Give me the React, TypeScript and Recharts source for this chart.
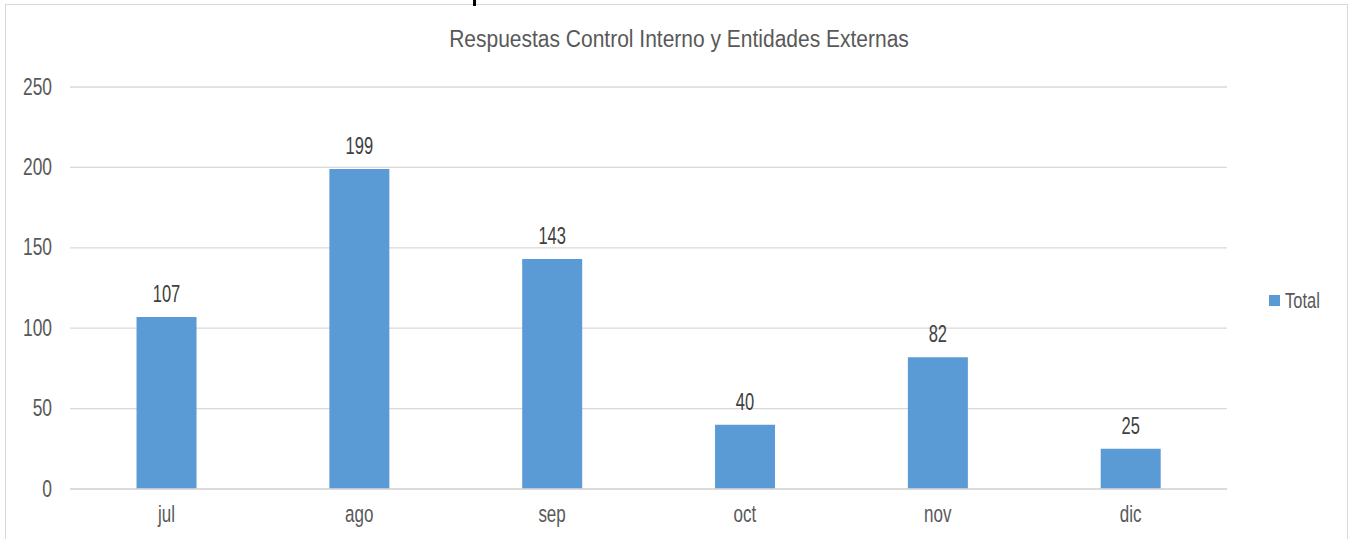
import React from 'react';
import { BarChart, Bar, XAxis, YAxis, CartesianGrid, LabelList } from 'recharts';

const months = ['jul', 'ago', 'sep', 'oct', 'nov', 'dic'];
const totals = [107, 199, 143, 40, 82, 25];
const yTicks = [0, 50, 100, 150, 200, 250];
const seriesName = 'Total';
const title = 'Respuestas Control Interno y Entidades Externas';

const data = months.map((m, i) => ({ month: m, Total: totals[i] }));

const FONT = "'Liberation Sans', Arial, sans-serif";
const TEXT = '#595959';
const LABEL = '#404040';
const BAR = '#5b9bd5';
const GRID = '#d9d9d9';

const YTick = (props: any) => {
  const { x, y, payload } = props;
  const bx = x - 10;
  const by = y + 7.5;
  return (
    <text x={bx} y={0} transform={`translate(0,${by}) scale(1,1.36)`} textAnchor="end" fill={TEXT} fontSize={17.4} fontFamily={FONT}>
      {payload.value}
    </text>
  );
};

const XTick = (props: any) => {
  const { x, y, payload } = props;
  const by = y + 25;
  return (
    <text x={x} y={0} transform={`translate(0,${by}) scale(1,1.37)`} textAnchor="middle" fill={TEXT} fontSize={17} fontFamily={FONT}>
      {payload.value}
    </text>
  );
};

const BarLabel = (props: any) => {
  const { x, y, width, value } = props;
  const cx = Number(x) + Number(width) / 2;
  const by = Number(y) - 15;
  return (
    <text x={cx} y={0} transform={`translate(0,${by}) scale(1,1.42)`} textAnchor="middle" fill={LABEL} fontSize={16.5} fontFamily={FONT}>
      {value}
    </text>
  );
};

export default function App() {
  return (
    <div style={{ position: 'absolute', left: 0, top: 0, width: 1354, height: 539, background: '#fff', overflow: 'hidden' }}>
      <div style={{ position: 'absolute', left: 5, top: 4, width: 1343, height: 560, border: '1px solid #d9d9d9', boxSizing: 'border-box' }} />
      <div style={{ position: 'absolute', left: 473, top: 0, width: 3, height: 6, background: '#000' }} />
      <div style={{ position: 'absolute', left: 0, top: 0 }}>
        <BarChart width={1354} height={539} data={data} margin={{ top: 87, right: 127, left: 10, bottom: 20 }} barCategoryGap="34.5%">
          <CartesianGrid vertical={false} stroke={GRID} strokeWidth={1.3} />
          <XAxis dataKey="month" axisLine={{ stroke: GRID, strokeWidth: 1.3 }} tickLine={false} height={30} tickMargin={2} tick={<XTick />} />
          <YAxis domain={[0, 250]} ticks={yTicks} axisLine={false} tickLine={false} width={60} tickMargin={2} tick={<YTick />} />
          <Bar dataKey="Total" name={seriesName} fill={BAR} isAnimationActive={false}>
            <LabelList dataKey="Total" content={<BarLabel />} />
          </Bar>
        </BarChart>
      </div>
      <svg width={1354} height={539} style={{ position: 'absolute', left: 0, top: 0, pointerEvents: 'none' }}>
        <text x={679} y={0} transform="translate(0,47.3) scale(1,1.11)" textAnchor="middle" fill={TEXT} fontSize={21} fontFamily={FONT}>
          {title}
        </text>
        <rect x={1269} y={295} width={11} height={11} fill={BAR} />
        <text x={1285} y={0} transform="translate(0,308.3) scale(1,1.33)" fill={TEXT} fontSize={16.5} fontFamily={FONT}>
          {seriesName}
        </text>
      </svg>
    </div>
  );
}
